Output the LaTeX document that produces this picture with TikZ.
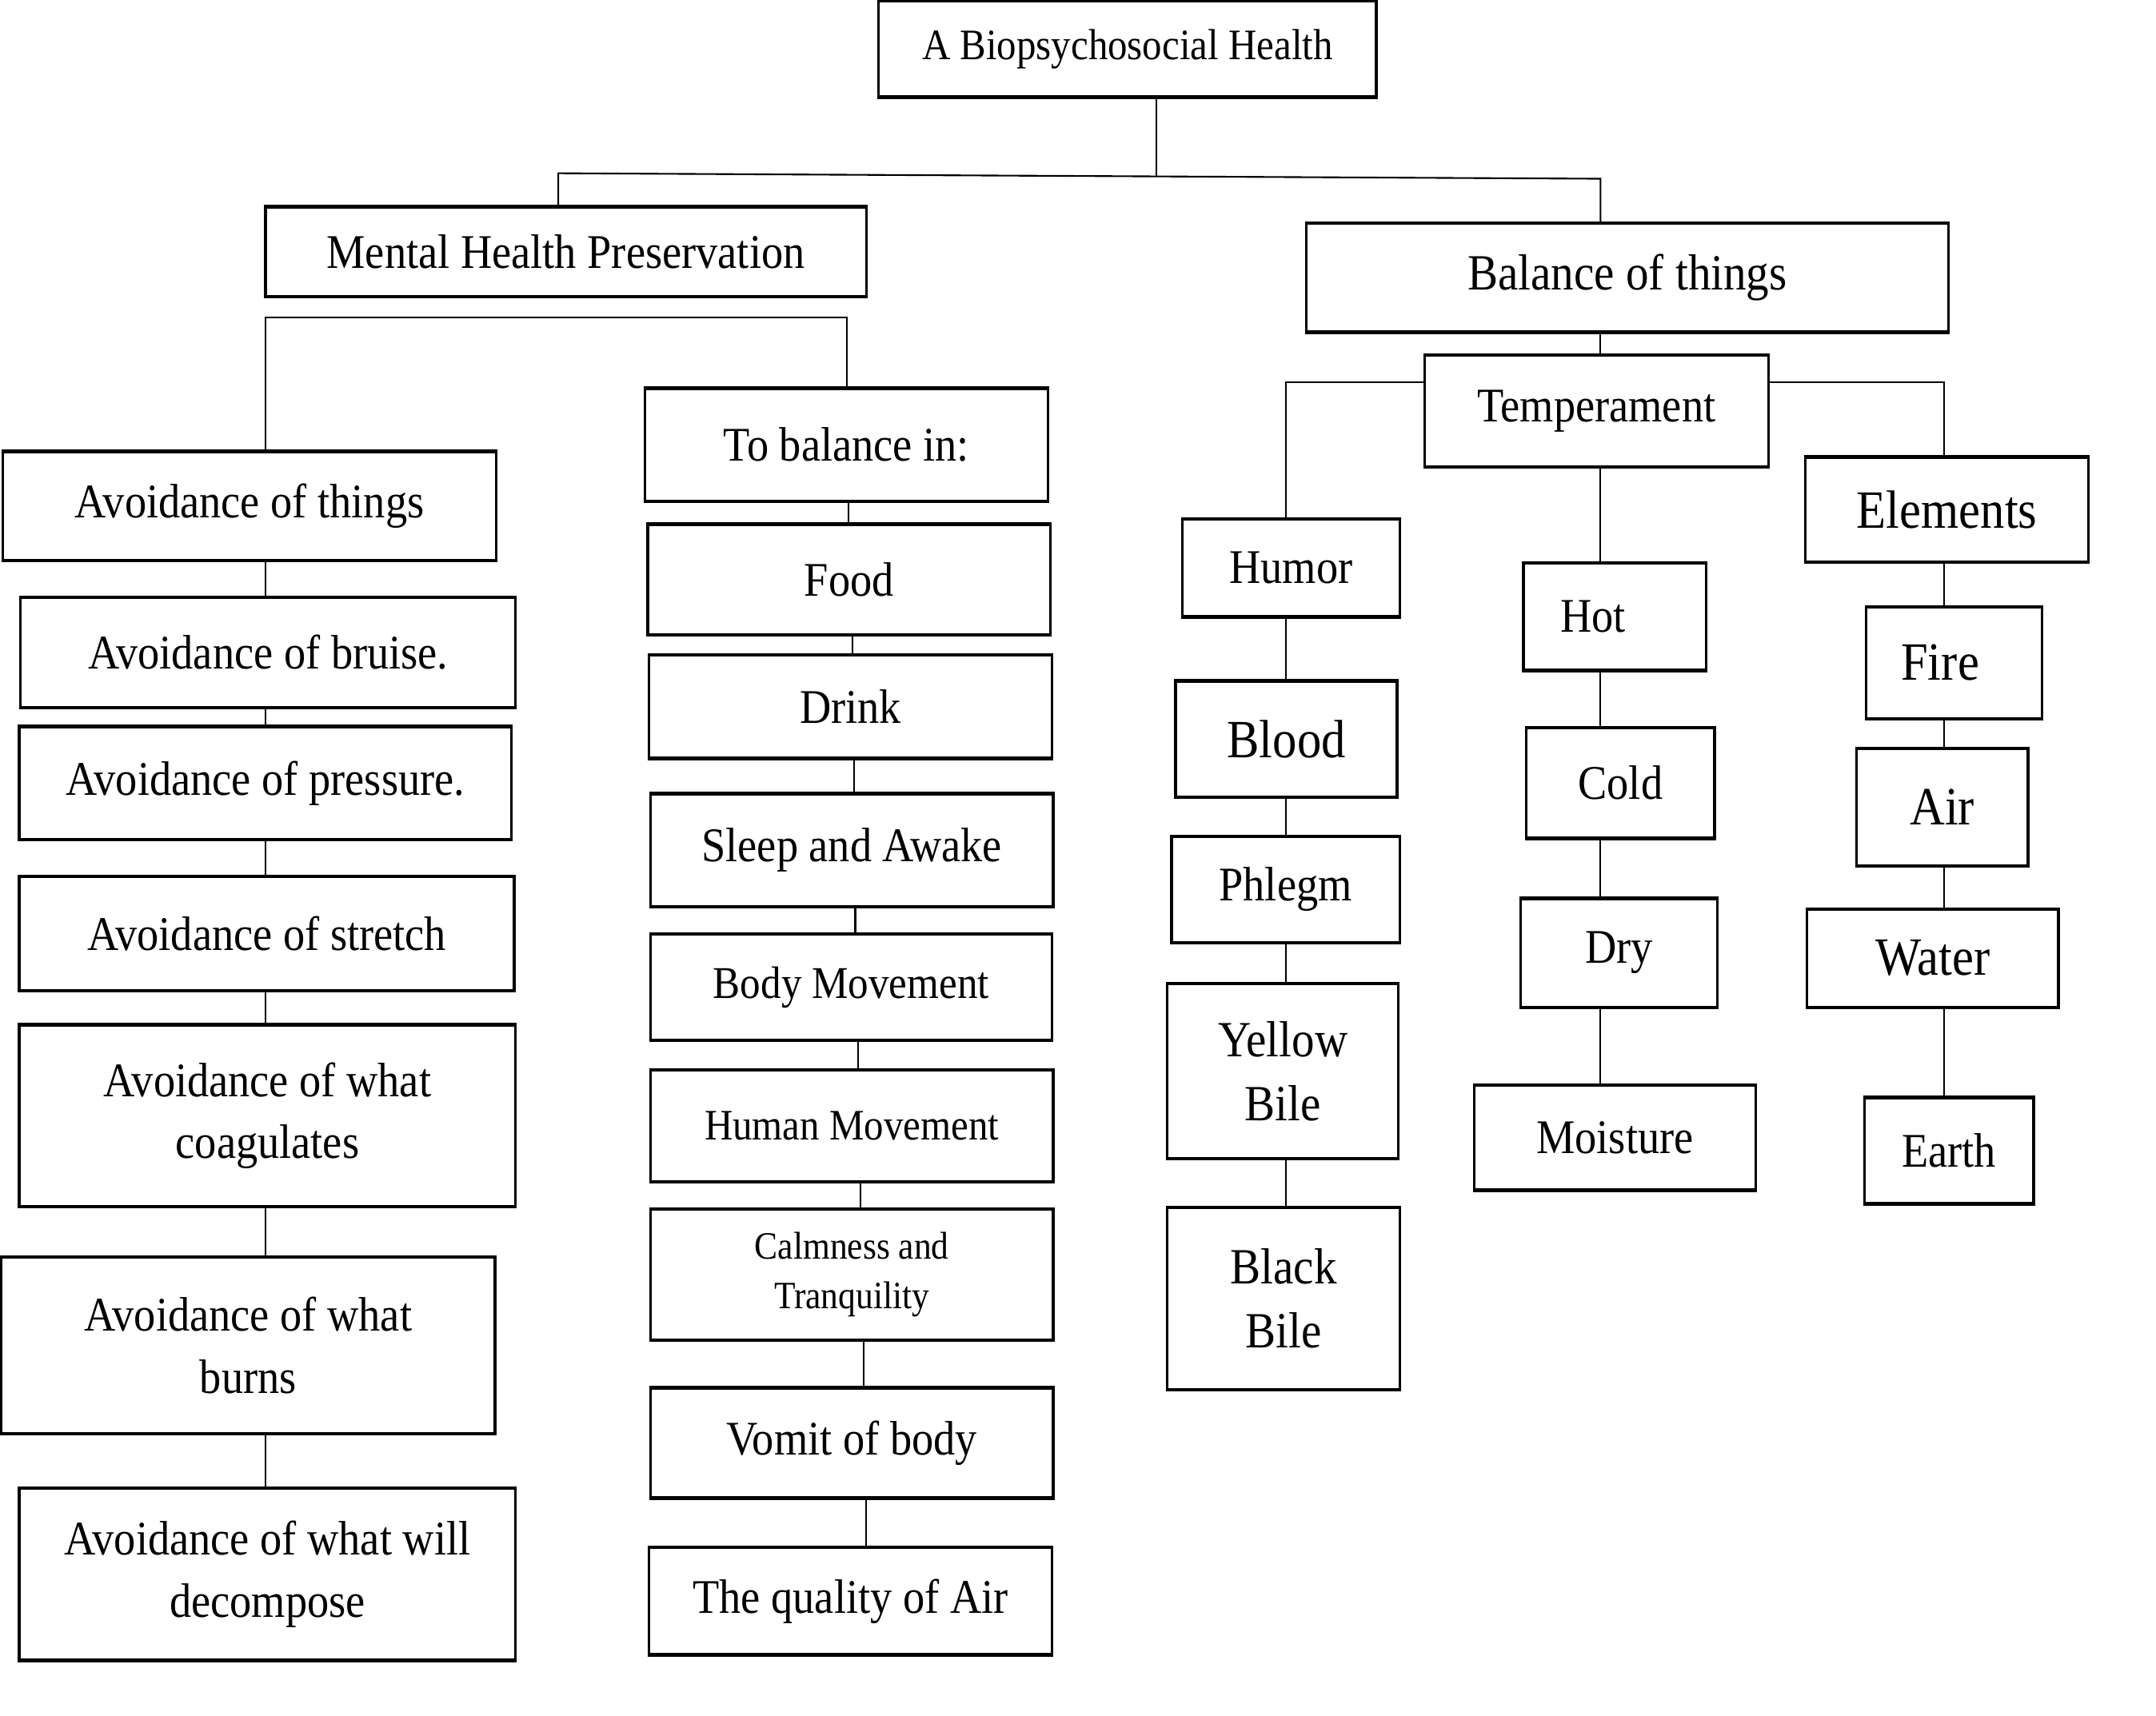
\documentclass[tikz,border=0pt]{standalone}
\usepackage{fontspec}
\setmainfont{Liberation Serif}[FakeStretch=0.9]
\begin{document}
\tikzset{
  box/.style={draw, line width=1.1pt, inner sep=0pt, outer sep=0pt, align=center,
    font=\fontsize{20}{25.6}\selectfont,
    path picture={\draw[line width=1.8pt]
      (path picture bounding box.north west) -- (path picture bounding box.north east)
      (path picture bounding box.south west) -- (path picture bounding box.south east);}},
  conn/.style={draw, line width=0.7pt},
  f16/.style={font=\fontsize{16}{20.5}\selectfont},
  f18/.style={font=\fontsize{18}{23}\selectfont},
  f19/.style={font=\fontsize{18.8}{24}\selectfont},
  f21/.style={font=\fontsize{21}{26.5}\selectfont},
  f22/.style={font=\fontsize{22.3}{28.5}\selectfont},
}
% \bx[options]{name}{x1}{y1}{x2}{y2}{text}
\newcommand{\bx}[7][]{%
  \node[box,#1,minimum width={(#5-#3)*0.02cm},minimum height={(#6-#4)*0.02cm}]
    (#2) at ({(#3+#5)/2},{(#4+#6)/2}) {#7};}
\begin{tikzpicture}[x=0.02cm,y=-0.02cm]
\useasboundingbox (0,0) rectangle (1568,1248);
% top level
\bx[f18]{top}{639}{0}{1001}{71}{A Biopsychosocial Health}
\bx{mhp}{193}{150}{630}{216}{Mental Health Preservation}
\bx[f21]{bot}{950}{162}{1417}{242}{Balance of things}
% left column
\bx{avt}{2}{328}{361}{408}{Avoidance of things}
\bx{a1}{15}{434}{375}{515}{Avoidance of bruise.}
\bx{a2}{14}{528}{372}{611}{Avoidance of pressure.}
\bx{a3}{14}{637}{374}{721}{Avoidance of stretch}
\bx{a4}{14}{745}{375}{878}{Avoidance of what\\coagulates}
\bx{a5}{1}{914}{360}{1043}{Avoidance of what\\burns}
\bx{a6}{14}{1082}{375}{1208}{Avoidance of what will\\decompose}
% middle column
\bx{tbi}{469}{282}{762}{365}{To balance in:}
\bx{b1}{471}{381}{764}{462}{Food}
\bx{b2}{472}{476}{765}{552}{Drink}
\bx{b3}{473}{577}{766}{660}{Sleep and Awake}
\bx[f19]{b4}{473}{679}{765}{757}{Body Movement}
\bx[f18]{b5}{473}{778}{766}{860}{Human Movement}
\bx[f16]{b6}{473}{879}{766}{975}{Calmness and\\Tranquility}
\bx{b7}{473}{1009}{766}{1090}{Vomit of body}
\bx{b8}{472}{1125}{765}{1204}{The quality of Air}
% right part
\bx{temp}{1036}{258}{1286}{340}{Temperament}
\bx{humor}{860}{377}{1018}{449}{Humor}
\bx[f22]{h1}{855}{495}{1016}{580}{Blood}
\bx{h2}{852}{608}{1018}{686}{Phlegm}
\bx[f21]{h3}{849}{715}{1017}{843}{Yellow\\Bile}
\bx[f21]{h4}{849}{878}{1018}{1011}{Black\\Bile}
\bx{hot}{1108}{409}{1241}{488}{Hot\hspace{0.64cm}}
\bx{cold}{1110}{529}{1247}{610}{Cold}
\bx{dry}{1106}{653}{1249}{733}{Dry}
\bx{moist}{1072}{789}{1277}{866}{Moisture}
\bx[f22]{elem}{1313}{332}{1519}{409}{Elements}
\bx[f22]{e1}{1357}{441}{1485}{523}{Fire\hspace{0.4cm}}
\bx[f22]{e2}{1350}{544}{1475}{630}{Air}
\bx[f22]{e3}{1314}{661}{1497}{733}{Water}
\bx{e4}{1356}{798}{1479}{876}{Earth}
% junction coordinates
\coordinate (jt) at (841,128);
\coordinate (jl) at (406,126);
\coordinate (jr) at (1164,130);
\coordinate (bl) at (193,231);
\coordinate (br) at (616,231);
\coordinate (hl) at (935,278);
\coordinate (hr) at (1414,278);
\coordinate (m1) at (617,0);
\coordinate (m2) at (620,0);
\coordinate (m3) at (621,0);
\coordinate (m4) at (622,0);
\coordinate (m5) at (624,0);
\coordinate (m6) at (626,0);
\coordinate (m7) at (628,0);
\coordinate (m8) at (630,0);
% connectors: top
\draw[conn] (top.south -| jt) -- (jt);
\draw[conn] (mhp.north -| jl) -- (jl) -- (jr) -- (bot.north -| jr);
% mental health bracket
\draw[conn] (avt.north -| bl) -- (bl) -- (br) -- (tbi.north -| br);
% left column
\foreach \u/\v in {avt/a1,a1/a2,a2/a3,a3/a4,a4/a5,a5/a6}
  \draw[conn] (\u.south -| bl) -- (\v.north -| bl);
% middle column
\foreach \u/\v/\c in {tbi/b1/m1,b1/b2/m2,b2/b3/m3,b3/b4/m4,b4/b5/m5,b5/b6/m6,b6/b7/m7,b7/b8/m8}
  \draw[conn] (\u.south -| \c) -- (\v.north -| \c);
% balance of things
\draw[conn] (bot.south -| jr) -- (temp.north -| jr);
\draw[conn] (temp.west |- hl) -- (hl) -- (humor.north -| hl);
\draw[conn] (temp.east |- hr) -- (hr) -- (elem.north -| hr);
\foreach \u/\v in {temp/hot,hot/cold,cold/dry,dry/moist}
  \draw[conn] (\u.south -| jr) -- (\v.north -| jr);
\foreach \u/\v in {humor/h1,h1/h2,h2/h3,h3/h4}
  \draw[conn] (\u.south -| hl) -- (\v.north -| hl);
\foreach \u/\v in {elem/e1,e1/e2,e2/e3,e3/e4}
  \draw[conn] (\u.south -| hr) -- (\v.north -| hr);
\end{tikzpicture}
\end{document}
